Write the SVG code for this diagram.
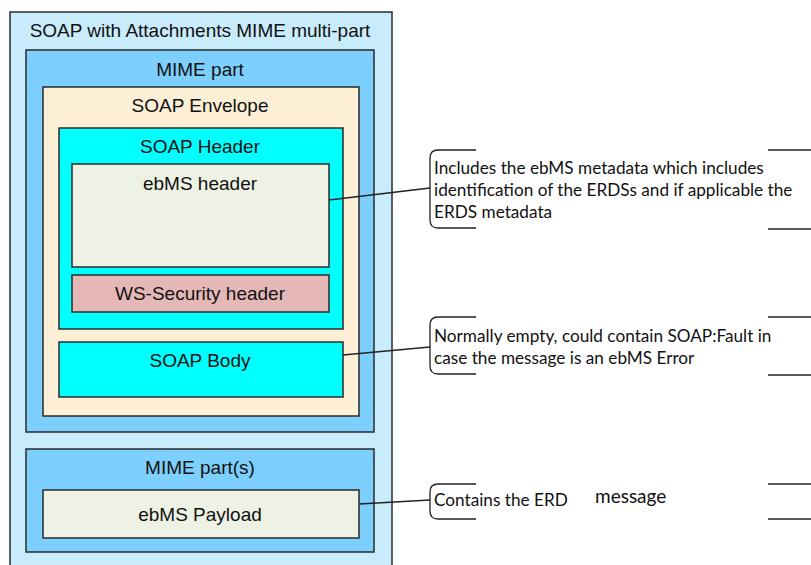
<svg xmlns="http://www.w3.org/2000/svg" width="811" height="565" viewBox="0 0 811 565">
<style>
.box{stroke:#2a2a2a;stroke-width:1.5}
.t{font-family:"Liberation Sans",Arial,sans-serif;font-size:19px;fill:#111;text-anchor:middle}
.n{font-family:Lato,"Open Sans",sans-serif;font-size:17.2px;fill:#111}
.br{fill:none;stroke:#222;stroke-width:1.3}
.c{fill:none;stroke:#222;stroke-width:1.3}
</style>
<rect width="811" height="565" fill="#fff"/>
<g id="multipart">
<rect class="box" x="10" y="12" width="382" height="560" fill="#c9ecfc"/>
<text class="t" x="200" y="37">SOAP with Attachments MIME multi-part</text>
</g>
<g id="mime-part">
<rect class="box" x="26" y="50" width="348" height="382" fill="#7dcffd"/>
<text class="t" x="200" y="76">MIME part</text>
</g>
<g id="soap-envelope">
<rect class="box" x="43" y="87" width="316" height="329" fill="#fdefd6"/>
<text class="t" x="200" y="112">SOAP Envelope</text>
</g>
<g id="soap-header">
<rect class="box" x="59" y="128" width="284" height="201" fill="#00ffff"/>
<text class="t" x="200" y="153">SOAP Header</text>
</g>
<g id="ebms-header">
<rect class="box" x="72" y="164" width="257" height="103" fill="#eef2e4"/>
<text class="t" x="200" y="190">ebMS header</text>
</g>
<g id="ws-security">
<rect class="box" x="72" y="275" width="257" height="37" fill="#e5b8b8"/>
<text class="t" x="200" y="300">WS-Security header</text>
</g>
<g id="soap-body">
<rect class="box" x="59" y="342" width="284" height="55" fill="#00ffff"/>
<text class="t" x="200" y="367">SOAP Body</text>
</g>
<g id="mime-parts">
<rect class="box" x="26" y="449" width="348" height="103" fill="#7dcffd"/>
<text class="t" x="200" y="474">MIME part(s)</text>
</g>
<g id="ebms-payload">
<rect class="box" x="43" y="490" width="316" height="48" fill="#eef2e4"/>
<text class="t" x="200" y="521">ebMS Payload</text>
</g>
<g id="note-header">
<path class="br" d="M476 150 H438 Q430 150 430 158 V220 Q430 228 438 228 H476"/>
<path class="br" d="M768 150 H811 M768 229 H811"/>
<text class="n" x="434" y="174">Includes the ebMS metadata which includes</text>
<text class="n" x="434" y="196">identification of the ERDSs and if applicable the</text>
<text class="n" x="434" y="218">ERDS metadata</text>
</g>
<g id="note-body">
<path class="br" d="M476 317 H438 Q430 317 430 325 V366 Q430 374 438 374 H476"/>
<path class="br" d="M768 317 H811 M768 375 H811"/>
<text class="n" x="434" y="342">Normally empty, could contain SOAP:Fault in</text>
<text class="n" x="434" y="364">case the message is an ebMS Error</text>
</g>
<g id="note-payload">
<path class="br" d="M476 484 H438 Q430 484 430 492 V511 Q430 519 438 519 H476"/>
<path class="br" d="M768 484 H811 M768 519 H811"/>
<text class="n" x="434" y="506">Contains the ERD</text>
<text class="n" x="595" y="503" style="font-size:19px">message</text>
</g>
<g id="connectors">
<line class="c" x1="329" y1="200" x2="430" y2="188"/>
<line class="c" x1="343" y1="355" x2="430" y2="347"/>
<line class="c" x1="359" y1="504" x2="430" y2="500"/>
</g>
</svg>
